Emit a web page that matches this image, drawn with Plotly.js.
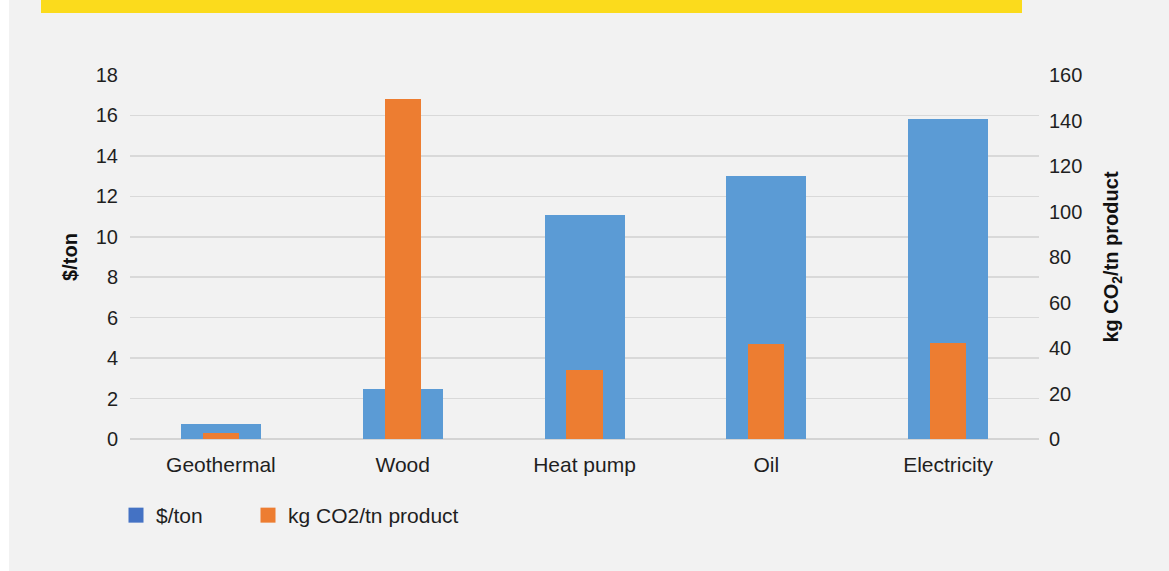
<!DOCTYPE html>
<html>
<head>
<meta charset="utf-8">
<script src="https://cdn.plot.ly/plotly-3.0.1.min.js"></script>
<style>
html,body{margin:0;padding:0;background:#ffffff;}
#chart{width:1169px;height:571px;}
</style>
</head>
<body>
<div id="chart"></div>
<script>
const categories = ["Geothermal", "Wood", "Heat pump", "Oil", "Electricity"];
const costPerTon = [0.73, 2.46, 11.1, 13.0, 15.8];
const co2PerTon = [2.5, 149.3, 30.2, 41.8, 42.0];
const leftTicks = [0, 2, 4, 6, 8, 10, 12, 14, 16, 18];
const rightTicks = [0, 20, 40, 60, 80, 100, 120, 140, 160];
const seriesNames = ["$/ton", "kg CO2/tn product"];

const W = 1169, H = 571;
const M = {l: 130, r: 130, t: 75, b: 132};
const pw = W - M.l - M.r, ph = H - M.t - M.b;
function px(x){ return (x - M.l) / pw; }
function py(y){ return (H - M.b - y) / ph; }

const font = {family: "Liberation Sans, Arial, Helvetica, sans-serif", size: 20, color: "#1f1f1f"};
const catFont = {family: font.family, size: 21, color: "#1f1f1f"};
const legFont = {family: font.family, size: 21, color: "#1f1f1f"};

const traces = [
  {type: "bar", x: categories, y: costPerTon, name: seriesNames[0], yaxis: "y",
   width: 0.44, marker: {color: "#5B9BD5"}, showlegend: false, hoverinfo: "x+y"},
  {type: "bar", x: categories, y: co2PerTon, name: seriesNames[1], yaxis: "y2",
   width: 0.2, marker: {color: "#ED7D31"}, showlegend: false, hoverinfo: "x+y"},
  {type: "scatter", mode: "markers", x: [null], y: [null], name: seriesNames[0], legend: "legend",
   marker: {symbol: "square", size: 15, color: "#4472C4", line: {width: 0}}, showlegend: true},
  {type: "scatter", mode: "markers", x: [null], y: [null], name: seriesNames[1], legend: "legend2",
   marker: {symbol: "square", size: 15, color: "#ED7D31", line: {width: 0}}, showlegend: true}
];

function legendAt(xpx){
  return {
    orientation: "h",
    x: px(xpx), xanchor: "left",
    y: py(495), yanchor: "top",
    bgcolor: "rgba(0,0,0,0)",
    borderwidth: 0,
    font: legFont,
    itemsizing: "trace"
  };
}

const layout = {
  width: W, height: H,
  margin: M,
  paper_bgcolor: "#f2f2f2",
  plot_bgcolor: "#f2f2f2",
  font: font,
  barmode: "overlay",
  bargap: 0,
  xaxis: {
    type: "category",
    tickvals: categories,
    ticktext: categories,
    showgrid: false, zeroline: false, showline: false,
    ticks: "", ticklabelstandoff: 11,
    tickfont: catFont, fixedrange: true
  },
  yaxis: {
    range: [0, 18], tickvals: leftTicks, ticktext: leftTicks.map(String),
    showgrid: true, gridcolor: "#d9d9d9", gridwidth: 1.5,
    zeroline: true, zerolinecolor: "#d4d4d4", zerolinewidth: 1.5,
    showline: false, ticks: "", ticklabelstandoff: 11,
    tickfont: font,
    title: {text: "$/ton", font: {family: font.family, size: 20, color: "#111", weight: "bold"}, standoff: 12},
    fixedrange: true
  },
  yaxis2: {
    overlaying: "y", side: "right",
    range: [0, 160], tickvals: rightTicks, ticktext: rightTicks.map(String),
    showgrid: false, zeroline: false, showline: false, ticks: "", ticklabelstandoff: 9,
    tickfont: font,
    title: {text: "kg CO<sub>2</sub>/tn product", font: {family: font.family, size: 20, color: "#111", weight: "bold"}, standoff: 22},
    fixedrange: true
  },
  legend: legendAt(116),
  legend2: legendAt(248),
  shapes: [
    {type: "rect", xref: "paper", yref: "paper", x0: px(0), x1: px(9), y0: py(H), y1: py(0),
     fillcolor: "#ffffff", line: {width: 0}, layer: "below"},
    {type: "rect", xref: "paper", yref: "paper", x0: px(41), x1: px(1022), y0: py(13), y1: py(0),
     fillcolor: "#FBDB1C", line: {width: 0}, layer: "above"}
  ],
  showlegend: true
};

Plotly.newPlot("chart", traces, layout, {displayModeBar: false, staticPlot: true});
</script>
</body>
</html>
